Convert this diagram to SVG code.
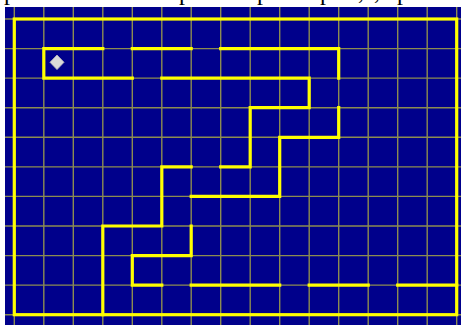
<svg xmlns="http://www.w3.org/2000/svg" width="461" height="325" viewBox="0 0 461 325">
  <style>
    .grid line { stroke: #8c8c50; stroke-width: 1.4; }
    .wall { stroke: #ffff00; stroke-width: 3.2; fill: none; stroke-linecap: square; stroke-linejoin: miter; }
    .frag { font-family: "Liberation Serif", serif; font-size: 24px; fill: #000; }
  </style>
  <rect x="0" y="0" width="461" height="325" fill="#ffffff"/>
  <g id="top-text">
    <text class="frag" x="4" y="0.3">p</text>
    <text class="frag" x="179" y="0.3">p</text>
    <text class="frag" x="257" y="0.3">p</text>
    <text class="frag" x="320" y="0.3">p</text>
    <text class="frag" x="358" y="-1">,</text>
    <text class="frag" x="374" y="-1">,</text>
    <text class="frag" x="397" y="0.3">p</text>
  </g>
  <rect id="board" x="5" y="7" width="456" height="318" fill="#00008b"/>
  <g class="grid" id="grid">
    <line x1="14.3" y1="7" x2="14.3" y2="325"/>
    <line x1="43.8" y1="7" x2="43.8" y2="325"/>
    <line x1="73.3" y1="7" x2="73.3" y2="325"/>
    <line x1="102.8" y1="7" x2="102.8" y2="325"/>
    <line x1="132.3" y1="7" x2="132.3" y2="325"/>
    <line x1="161.8" y1="7" x2="161.8" y2="325"/>
    <line x1="191.2" y1="7" x2="191.2" y2="325"/>
    <line x1="220.7" y1="7" x2="220.7" y2="325"/>
    <line x1="250.2" y1="7" x2="250.2" y2="325"/>
    <line x1="279.7" y1="7" x2="279.7" y2="325"/>
    <line x1="309.2" y1="7" x2="309.2" y2="325"/>
    <line x1="338.7" y1="7" x2="338.7" y2="325"/>
    <line x1="368.2" y1="7" x2="368.2" y2="325"/>
    <line x1="397.7" y1="7" x2="397.7" y2="325"/>
    <line x1="427.2" y1="7" x2="427.2" y2="325"/>
    <line x1="456.7" y1="7" x2="456.7" y2="325"/>
    <line x1="5" y1="19" x2="461" y2="19"/>
    <line x1="5" y1="48.6" x2="461" y2="48.6"/>
    <line x1="5" y1="78.1" x2="461" y2="78.1"/>
    <line x1="5" y1="107.7" x2="461" y2="107.7"/>
    <line x1="5" y1="137.3" x2="461" y2="137.3"/>
    <line x1="5" y1="166.9" x2="461" y2="166.9"/>
    <line x1="5" y1="196.4" x2="461" y2="196.4"/>
    <line x1="5" y1="226" x2="461" y2="226"/>
    <line x1="5" y1="255.6" x2="461" y2="255.6"/>
    <line x1="5" y1="285.1" x2="461" y2="285.1"/>
    <line x1="5" y1="314.7" x2="461" y2="314.7"/>
  </g>
  <g id="walls">
    <rect class="wall" x="14.3" y="19" width="442.4" height="295.7"/>
    <path class="wall" d="M102.8,48.6 H43.8 V78.1 H132.3"/>
    <path class="wall" d="M132.3,48.6 H191.2"/>
    <path class="wall" d="M220.7,48.6 H338.7 V78.1"/>
    <path class="wall" d="M161.8,78.1 H309.2 V107.7 H250.2 V166.9 H220.7"/>
    <path class="wall" d="M338.7,107.7 V137.3 H279.7 V196.4 H191.2"/>
    <path class="wall" d="M191.2,166.9 H161.8 V226 H102.8 V314.7"/>
    <path class="wall" d="M191.2,226 V255.6 H132.3 V285.1 H161.8"/>
    <path class="wall" d="M191.2,285.1 H279.7"/>
    <path class="wall" d="M309.2,285.1 H368.2"/>
    <path class="wall" d="M397.7,285.1 H456.7"/>
  </g>
  <g id="player">
    <polygon points="57,55 64,62.3 57,69.6 50,62.3" fill="#d9d9d9" stroke="#bdbdbd" stroke-width="0.8"/>
  </g>
</svg>
